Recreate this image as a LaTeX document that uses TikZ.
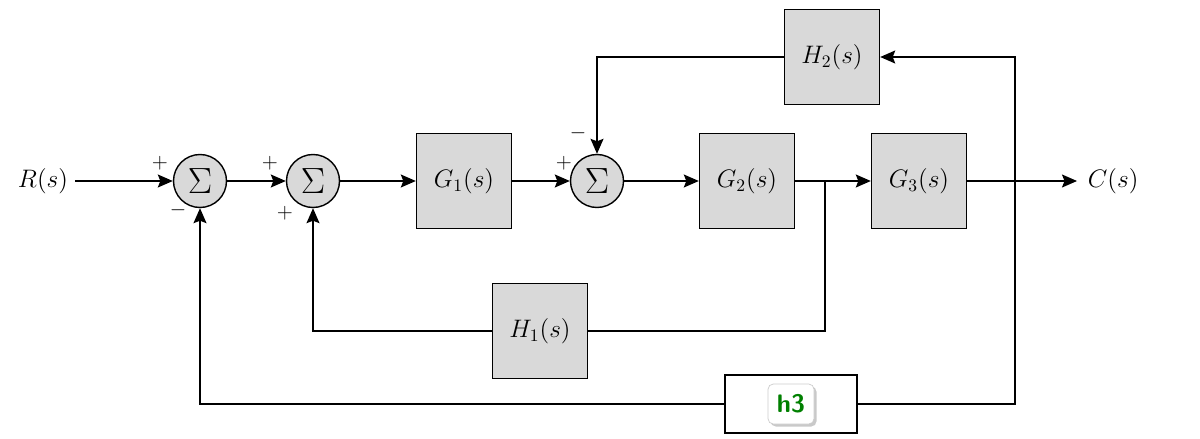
\documentclass[tikz,border=0pt]{standalone}
\usepackage{amsmath}
\usepackage{amssymb}
\usepackage{tikz}
\usetikzlibrary{arrows.meta,positioning,calc,shadows}
\tikzset{
  blk/.style={draw, line width=0.8pt, fill=black!15, minimum width=19mm,
              minimum height=19mm, inner sep=2pt, font=\Large},
  sumb/.style={draw, circle, line width=0.8pt, fill=black!15,
               minimum size=10.6mm, inner sep=0pt, font=\huge},
  sig/.style={-{Stealth[length=3mm,width=2.6mm,inset=0.5mm]}, line width=0.8pt},
  wire/.style={line width=0.8pt},
  sgn/.style={font=\large, inner sep=0pt},
  lbl/.style={font=\Large, inner sep=1pt},
}
\begin{document}
\begin{tikzpicture}[x=0.2mm,y=-0.2mm]
    \useasboundingbox (0,0) rectangle (1200,438);
    % forward path
    \node[lbl,inner xsep=4pt] (rin) at (43,181) {$R(s)$};
    \node[sumb] (s1) at (200,181) {$\Sigma$};
    \node[sumb] (s2) at (313,181) {$\Sigma$};
    \node[blk] (g1) at (464,181) {$G_1(s)$};
    \node[sumb] (s3) at (597,181) {$\Sigma$};
    \node[blk] (g2) at (747,181) {$G_2(s)$};
    \node[blk] (g3) at (919,181) {$G_3(s)$};
    \node[lbl,anchor=west,inner xsep=6pt] (cout) at (1077,181) {$C(s)$};
    % feedback blocks
    \node[blk] (h2) at (832,57) {$H_2(s)$};
    \node[blk] (h1) at (540,331) {$H_1(s)$};
    \node[blk,fill=white,minimum width=26.4mm,minimum height=11.6mm] (h3) at (791,404) {};
    \node[draw=black!20, rounded corners=3pt, fill=white,
          drop shadow={shadow xshift=0.5mm,shadow yshift=-0.5mm,fill=black!35,opacity=.6},
          font=\sffamily\bfseries\Large, text=green!50!black,
          minimum width=9.2mm, minimum height=8mm] (h3tag) at (h3) {h3};
    % signs
    \node[sgn] (p1) at ($(s1)+(-40,-18)$) {$+$};
    \node[sgn] (m1) at ($(s1)+(-22,29)$) {$-$};
    \node[sgn] (p2) at ($(s2)+(-43,-18)$) {$+$};
    \node[sgn] (p3) at ($(s2)+(-28,32)$) {$+$};
    \node[sgn] (p4) at ($(s3)+(-33,-18)$) {$+$};
    \node[sgn] (m2) at ($(s3)+(-19,-48)$) {$-$};
    % branch points
    \coordinate (br1) at (825,181);
    \coordinate (br2) at (1015,181);
    % signals
    \draw[sig] (rin.east) -- (s1.west);
    \draw[sig] (s1.east) -- (s2.west);
    \draw[sig] (s2.east) -- (g1.west);
    \draw[sig] (g1.east) -- (s3.west);
    \draw[sig] (s3.east) -- (g2.west);
    \draw[sig] (g2.east) -- (g3.west);
    \draw[sig] (g3.east) -- (cout.west);
    \draw[wire] (br1) |- (h1.east);
    \draw[sig] (h1.west) -| (s2.south);
    \draw[sig] (br2) |- (h2.east);
    \draw[sig] (h2.west) -| (s3.north);
    \draw[wire] (br2) |- (h3.east);
    \draw[sig] (h3.west) -| (s1.south);
\end{tikzpicture}
\end{document}
